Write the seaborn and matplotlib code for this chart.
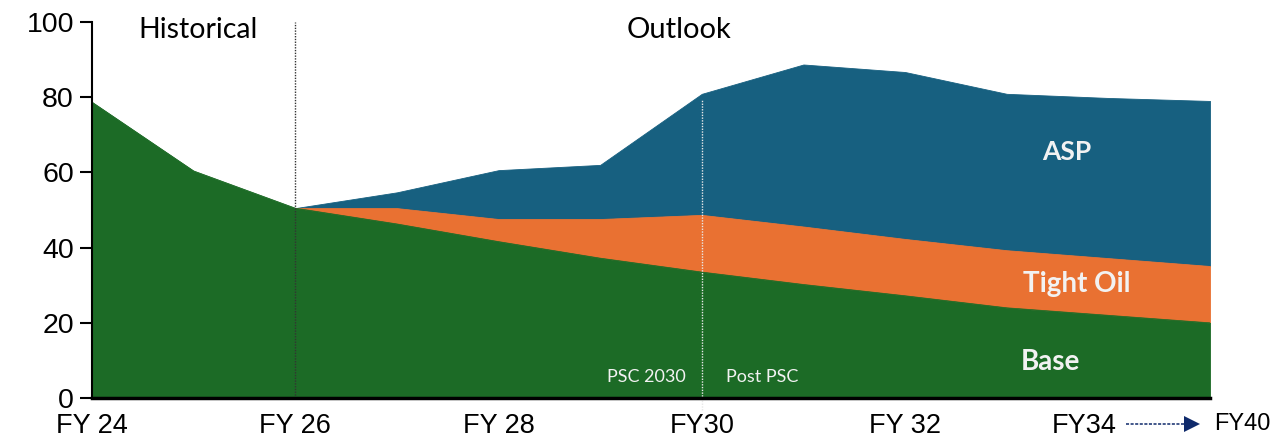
import numpy as np
import pandas as pd
import matplotlib
matplotlib.use("Agg")
import matplotlib.pyplot as plt
import seaborn as sns

# ---- data ----
years = ["FY24", "FY25", "FY26", "FY27", "FY28", "FY29", "FY30",
         "FY31", "FY32", "FY33", "FY34", "FY35"]
base = [78.7, 60.4, 50.5, 46.3, 41.6, 37.2, 33.5, 30.2, 27.2, 24.0, 22.0, 20.0]
tight_oil = [0, 0, 0, 4.2, 6.0, 10.4, 15.2, 15.4, 15.1, 15.3, 15.2, 15.1]
asp = [0, 0, 0, 4.2, 13.0, 14.4, 32.2, 43.1, 44.4, 41.6, 42.6, 43.9]

tick_labels = ["FY 24", "FY 26", "FY 28", "FY30", "FY 32", "FY34"]

GREEN = "#1C6B26"
ORANGE = "#E97132"
BLUE = "#176080"
NAVY = "#0F2A6B"

sns.set_theme(style="white")
plt.rcParams["font.family"] = ["Liberation Sans", "DejaVu Sans"]

df = pd.DataFrame({"year": years, "base": base, "tight": tight_oil, "asp": asp})
df["x"] = np.arange(len(df))
df["top_base"] = df["base"]
df["top_tight"] = df["base"] + df["tight"]
df["top_asp"] = df["top_tight"] + df["asp"]

fig = plt.figure(figsize=(12.73, 4.40), dpi=100)
ax = fig.add_axes([92 / 1273, 1 - 398 / 440, (1210 - 92) / 1273, (398 - 22) / 440])

outlook = df[df["x"] >= 2]
ax.fill_between(outlook["x"], outlook["top_tight"], outlook["top_asp"],
                color=BLUE, linewidth=0.6, edgecolor=BLUE)
ax.fill_between(outlook["x"], outlook["top_base"], outlook["top_tight"],
                color=ORANGE, linewidth=0.6, edgecolor=ORANGE)
ax.fill_between(df["x"], 0, df["top_base"], color=GREEN, linewidth=0.6,
                edgecolor=GREEN)
sns.lineplot(data=df, x="x", y="top_base", ax=ax, color=GREEN, linewidth=0.5,
             legend=False)

ax.set_xlim(0, 11)
ax.set_ylim(0, 100)
ax.set_xlabel("")
ax.set_ylabel("")

ax.set_yticks([0, 20, 40, 60, 80, 100])
ax.set_xticks([0, 2, 4, 6, 8, 9.76])
ax.set_xticklabels(tick_labels)
ax.tick_params(axis="y", direction="out", length=9, width=1.5, color="black",
               labelsize=20.5, pad=4, left=True, labelcolor="black")
ax.tick_params(axis="x", length=0, labelsize=19.5, pad=10.5, labelcolor="black")

for s in ["top", "right"]:
    ax.spines[s].set_visible(False)
ax.spines["left"].set_color("black")
ax.spines["left"].set_linewidth(1.5)
ax.spines["bottom"].set_color("black")
ax.spines["bottom"].set_linewidth(2.5)
ax.spines["left"].set_zorder(5)
ax.spines["bottom"].set_zorder(5)

# dividers
ax.plot([2, 2], [0, 100], color="#333333", linestyle=(0, (1, 1)), linewidth=1.0,
        zorder=4, clip_on=False)
ax.plot([6, 6], [-3.2, 79.5], color="#E8E8E8", linestyle=(0, (1, 1)),
        linewidth=1.0, zorder=4, clip_on=False)

lato = ["Lato", "DejaVu Sans"]
ax.text(1.04, 97.9, "Historical", ha="center", va="center", fontsize=20.5,
        family=lato, color="black")
ax.text(5.78, 97.9, "Outlook", ha="center", va="center", fontsize=21,
        family=lato, color="black")

ax.text(9.59, 65.4, "ASP", ha="center", va="center", fontsize=19,
        fontweight="bold", family=lato, color="#F2F2F2", zorder=6)
ax.text(9.69, 30.3, "Tight Oil", ha="center", va="center", fontsize=20,
        fontweight="bold", family=lato, color="#F2F2F2", zorder=6)
ax.text(9.43, 9.6, "Base", ha="center", va="center", fontsize=20,
        fontweight="bold", family=lato, color="#F2F2F2", zorder=6)

ax.text(5.45, 5.6, "PSC 2030", ha="center", va="center", fontsize=13,
        family=lato, color="#F2F2F2", zorder=6)
ax.text(6.59, 5.6, "Post PSC", ha="center", va="center", fontsize=13,
        family=lato, color="#F2F2F2", zorder=6)

# FY34 -> FY40 arrow
ax.plot([10.17, 10.74], [-6.8, -6.8], color=NAVY, linestyle=(0, (2, 1)),
        linewidth=1.1, clip_on=False)
ax.plot([10.82], [-6.8], marker=">", markersize=11, color=NAVY,
        markeredgewidth=0, clip_on=False, linestyle="none")
ax.text(11.04, -6.8, "FY40", ha="left", va="center", fontsize=17,
        color="black", clip_on=False)

fig.savefig("out.png", dpi=100)
